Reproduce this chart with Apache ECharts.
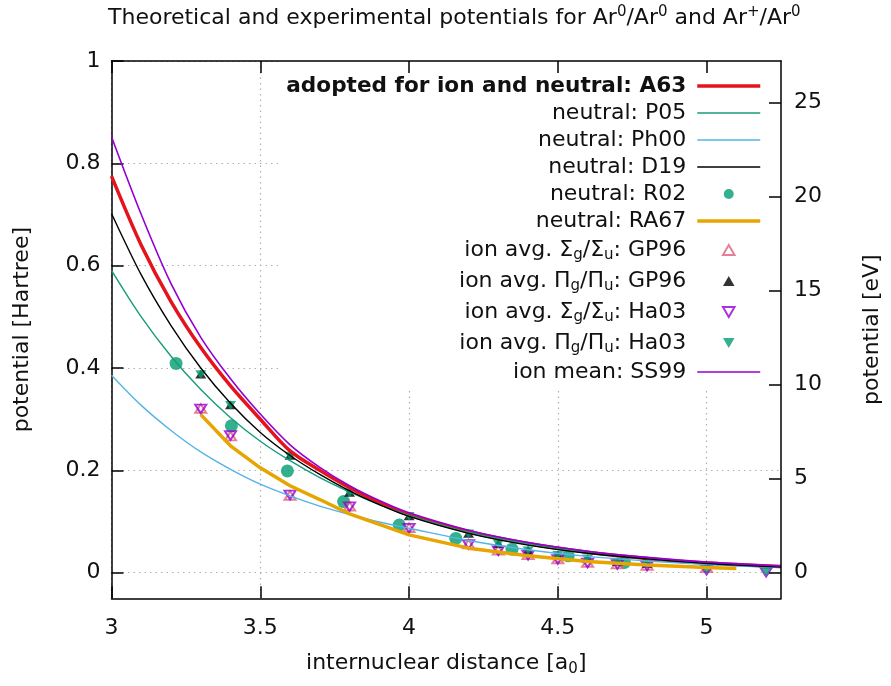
<!DOCTYPE html>
<html><head><meta charset="utf-8">
<script src="https://cdn.jsdelivr.net/npm/echarts@6/dist/echarts.min.js"></script>
<style>html,body{margin:0;padding:0;background:#fff}#c{width:891px;height:686px}</style>
</head><body><div id="c"></div>
<script>
// ---- axes / ticks ----
const HARTREE_EV = 27.2114;
const xRange = [3, 5.25];
const yRangeHartree = [-0.05, 1];
const xTicks = [3, 3.5, 4, 4.5, 5];
const yTicksHartree = [0, 0.2, 0.4, 0.6, 0.8, 1];
const yTicksEV = [0, 5, 10, 15, 20, 25];

// ---- theoretical curves ----
const curveX = [3.0, 3.1, 3.2, 3.3, 3.4, 3.5, 3.6, 3.7, 3.8, 3.9, 4.0, 4.2, 4.4, 4.6, 4.8, 5.0, 5.25];
const A63  = [0.775, 0.640, 0.530, 0.440, 0.365, 0.300, 0.238, 0.200, 0.166, 0.137, 0.113, 0.080, 0.057, 0.040, 0.028, 0.019, 0.012];
const P05  = [0.591, 0.500, 0.423, 0.358, 0.303, 0.257, 0.219, 0.186, 0.158, 0.133, 0.112, 0.079, 0.056, 0.039, 0.027, 0.018, 0.011];
const Ph00 = [0.386, 0.327, 0.278, 0.236, 0.202, 0.173, 0.150, 0.130, 0.114, 0.099, 0.087, 0.063, 0.045, 0.032, 0.023, 0.016, 0.010];
const D19  = [0.702, 0.582, 0.483, 0.400, 0.331, 0.274, 0.229, 0.192, 0.160, 0.133, 0.110, 0.077, 0.054, 0.038, 0.027, 0.018, 0.011];
const SS99 = [0.852, 0.700, 0.565, 0.460, 0.379, 0.310, 0.250, 0.206, 0.170, 0.141, 0.117, 0.083, 0.059, 0.042, 0.030, 0.021, 0.013];

const RA67x = [3.3, 3.4, 3.5, 3.6, 3.7, 3.8, 4.0, 4.2, 4.4, 4.6, 4.8, 5.0, 5.1];
const RA67  = [0.309, 0.248, 0.205, 0.170, 0.143, 0.115, 0.074, 0.048, 0.033, 0.022, 0.015, 0.010, 0.008];

// ---- experimental / tabulated points ----
const R02x = [3.217, 3.403, 3.591, 3.780, 3.967, 4.157, 4.346, 4.535, 4.724];
const R02  = [0.409, 0.287, 0.199, 0.139, 0.093, 0.067, 0.046, 0.033, 0.020];

const GP96x     = [3.3, 3.4, 3.6, 3.8, 4.0, 4.2, 4.3, 4.4, 4.5, 4.6, 4.7, 4.8, 5.0];
const GP96sigma = [0.321, 0.267, 0.151, 0.130, 0.088, 0.056, 0.044, 0.035, 0.027, 0.020, 0.017, 0.014, 0.010];
const GP96pi    = [0.388, 0.328, 0.229, 0.157, 0.111, 0.077, 0.057, 0.044, 0.035, 0.028, 0.022, 0.018, 0.016];
const Ha03x     = [3.3, 3.4, 3.6, 3.8, 4.0, 4.2, 4.3, 4.4, 4.5, 4.6, 4.7, 4.8, 5.0, 5.2];
const Ha03sigma = [0.320, 0.268, 0.152, 0.129, 0.087, 0.055, 0.043, 0.034, 0.026, 0.019, 0.016, 0.013, 0.005, 0.001];
const Ha03pi    = [0.387, 0.327, 0.228, 0.156, 0.110, 0.076, 0.056, 0.043, 0.034, 0.027, 0.021, 0.017, 0.006, 0.002];

const seriesNames = [
  'adopted for ion and neutral: A63', 'neutral: P05', 'neutral: Ph00', 'neutral: D19',
  'neutral: R02', 'neutral: RA67',
  'ion avg. Σg/Σu: GP96', 'ion avg. Πg/Πu: GP96', 'ion avg. Σg/Σu: Ha03', 'ion avg. Πg/Πu: Ha03',
  'ion mean: SS99'
];

const FONT = 'DejaVu Sans';
const FS = 22;
const TXT = '#111';
const TRI_UP = 'path://M1,0L2,1.732L0,1.732Z';
const TRI_DOWN = 'path://M0,0L2,0L1,1.732Z';
const zip = (xs, ys) => xs.map((x, i) => [x, ys[i]]);

function lineSeries(name, xs, ys, color, width, smooth) {
  return { type: 'line', name, data: zip(xs, ys), smooth: smooth, symbol: 'none',
    lineStyle: { color, width }, itemStyle: { color }, emphasis: { disabled: true }, animation: false };
}
function scatterSeries(name, xs, ys, opts) {
  return Object.assign({ type: 'scatter', name, data: zip(xs, ys), symbolKeepAspect: true,
    emphasis: { disabled: true }, animation: false }, opts);
}

const lineWidths = {};
function L(name, xs, ys, color, width, smooth) { lineWidths[name] = width; return lineSeries(name, xs, ys, color, width, smooth); }

const series = [
  L(seriesNames[0], curveX, A63, '#e3141c', 3.5, 0.3),
  L(seriesNames[1], curveX, P05, '#169c7a', 1.4, 0.3),
  L(seriesNames[2], curveX, Ph00, '#56b4e9', 1.4, 0.3),
  L(seriesNames[3], curveX, D19, '#000000', 1.4, 0.3),
  scatterSeries(seriesNames[4], R02x, R02, { symbol: 'circle', symbolSize: 13, itemStyle: { color: '#009e73' } }),
  L(seriesNames[5], RA67x, RA67, '#e6a500', 3.5, false),
  scatterSeries(seriesNames[6], GP96x, GP96sigma, { symbol: TRI_UP, symbolSize: [11, 10],
    itemStyle: { color: 'rgba(255,255,255,0)', borderColor: '#e0607e', borderWidth: 2 } }),
  scatterSeries(seriesNames[7], GP96x, GP96pi, { symbol: TRI_UP, symbolSize: [11, 10], itemStyle: { color: '#000' } }),
  scatterSeries(seriesNames[8], Ha03x, Ha03sigma, { symbol: TRI_DOWN, symbolSize: [11, 10],
    itemStyle: { color: 'rgba(255,255,255,0)', borderColor: '#9400d3', borderWidth: 2 } }),
  scatterSeries(seriesNames[9], Ha03x, Ha03pi, { symbol: TRI_DOWN, symbolSize: [11, 10], itemStyle: { color: '#009e73' } }),
  L(seriesNames[10], curveX, SS99, '#9400d3', 1.6, 0.3)
];

const legendData = seriesNames.map(n => lineWidths[n] !== undefined
  ? { name: n, itemStyle: { color: 'rgba(0,0,0,0)', borderColor: 'rgba(0,0,0,0)', borderWidth: 0 }, lineStyle: { width: lineWidths[n] } }
  : { name: n });

function legendFmt(n) {
  if (n === seriesNames[0]) return '{b|' + n + '}';
  return n.replace(/([ΣΠ])([gu])/g, '$1{s|$2}');
}

const chart = echarts.init(document.getElementById('c'), null, { renderer: 'canvas' });
const axisLine = { show: true, onZero: false, lineStyle: { color: '#000', width: 1.5 } };
const tickStyle = { lineStyle: { color: '#000', width: 1.5 } };
const gridLine = { show: true, lineStyle: { color: '#b0b0b0', width: 1.2, type: [1.5, 4] } };
chart.setOption({
  animation: false,
  backgroundColor: '#fff',
  textStyle: { fontFamily: FONT },
  title: {
    text: 'Theoretical and experimental potentials for Ar{p|0}/Ar{p|0} and Ar{p|+}/Ar{p|0}',
    left: 108, top: 5, padding: 0,
    textStyle: { fontFamily: FONT, fontSize: FS, fontWeight: 'normal', color: TXT,
      rich: { p: { fontFamily: FONT, fontSize: 15, color: TXT, padding: [0, 0, 12, 0] } } }
  },
  grid: { left: 111.5, right: 104, top: 61, bottom: 87.7, containLabel: false },
  legend: {
    orient: 'vertical', align: 'right', right: 104, top: 61,
    padding: [14, 25, 6, 5], backgroundColor: '#fff',
    itemWidth: 63, itemHeight: 10, itemGap: 5, selectedMode: false,
    symbolKeepAspect: true,
    data: legendData,
    formatter: legendFmt,
    textStyle: { fontFamily: FONT, fontSize: FS, color: TXT, lineHeight: 22, padding: [0, 6, 0, 0],
      rich: {
        b: { fontFamily: FONT, fontSize: 21.6, fontWeight: 'bold', color: TXT, lineHeight: 22 },
        s: { fontFamily: FONT, fontSize: 15, color: TXT, lineHeight: 22, padding: [11, 0, 0, 0] }
      } }
  },
  xAxis: [
    { type: 'value', position: 'bottom', min: xRange[0], max: xRange[1],
      name: 'internuclear distance [a{s|0}]', nameLocation: 'middle', nameGap: 54,
      nameTextStyle: { fontFamily: FONT, fontSize: FS, color: TXT, lineHeight: 22,
        rich: { s: { fontFamily: FONT, fontSize: 15, color: TXT, lineHeight: 22, padding: [11, 0, 0, 0] } } },
      axisLine, axisTick: Object.assign({ inside: true, length: 12, customValues: xTicks }, tickStyle),
      axisLabel: { customValues: xTicks, margin: 19, fontFamily: FONT, fontSize: FS, color: TXT },
      splitLine: gridLine },
    { type: 'value', position: 'top', min: xRange[0], max: xRange[1], z: 10,
      axisLine, axisTick: Object.assign({ inside: true, length: 12, customValues: xTicks }, tickStyle),
      axisLabel: { show: false }, splitLine: { show: false } }
  ],
  yAxis: [
    { type: 'value', position: 'left', min: yRangeHartree[0], max: yRangeHartree[1],
      name: 'potential [Hartree]', nameLocation: 'middle', nameGap: 78, nameRotate: 90,
      nameTextStyle: { fontFamily: FONT, fontSize: FS, color: TXT },
      axisLine, axisTick: Object.assign({ inside: true, length: 12, customValues: yTicksHartree }, tickStyle),
      axisLabel: { customValues: yTicksHartree, margin: 11, fontFamily: FONT, fontSize: FS, color: TXT },
      splitLine: gridLine },
    { type: 'value', position: 'right', z: 10,
      min: yRangeHartree[0] * HARTREE_EV, max: yRangeHartree[1] * HARTREE_EV,
      name: 'potential [eV]', nameLocation: 'middle', nameGap: 80, nameRotate: 90,
      nameTextStyle: { fontFamily: FONT, fontSize: FS, color: TXT },
      axisLine, axisTick: Object.assign({ inside: true, length: 12, customValues: yTicksEV }, tickStyle),
      axisLabel: { customValues: yTicksEV, margin: 13, fontFamily: FONT, fontSize: FS, color: TXT },
      splitLine: { show: false } }
  ],
  series: series.map(s => Object.assign(s, { xAxisIndex: 0, yAxisIndex: 0 }))
});
</script></body></html>
